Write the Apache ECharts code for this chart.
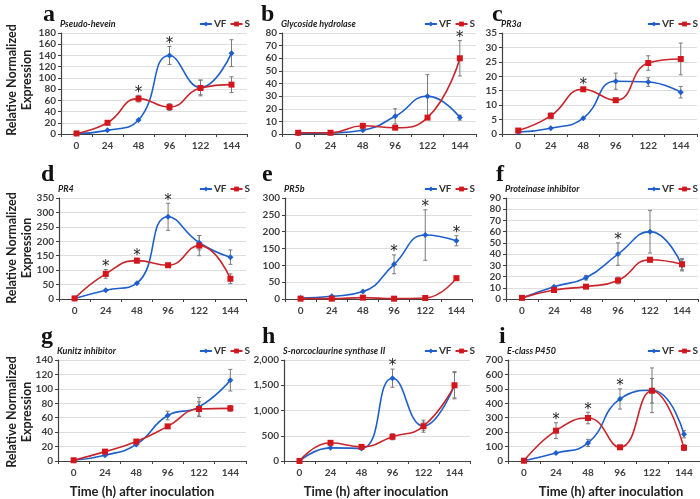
<!DOCTYPE html>
<html><head><meta charset="utf-8">
<script src="https://cdn.jsdelivr.net/npm/echarts@6/dist/echarts.min.js"></script>
<style>html,body{margin:0;padding:0;background:#fff}#c{width:700px;height:499px}</style>
</head><body><div id="c"></div>
<script>
const cats = ['0','24','48','96','122','144'];
const letters = ['a','b','c','d','e','f','g','h','i'];
const genes = ['Pseudo-hevein','Glycoside hydrolase','PR3a','PR4','PR5b','Proteinase inhibitor','Kunitz inhibitor','S-norcoclaurine synthase II','E-class P450'];
const yMax = [180, 80, 35, 350, 300, 90, 140, 2000, 700];
const yStep = [20, 10, 5, 50, 50, 10, 20, 500, 100];

const aVF = [1, 6.5, 25, 140, 83, 144];   const aVFerr = [0.5, 1, 2, 16, 13, 24];
const aS  = [1, 20, 63, 48, 82, 88];      const aSerr  = [0.5, 2, 6, 6, 14, 14];
const aStar = ['', '', 'S', 'VF', '', ''];
const bVF = [0.5, 0.8, 3, 14, 30, 13];    const bVFerr = [0.2, 0.3, 0.5, 6, 17, 2];
const bS  = [1, 1, 6.5, 5, 13, 60];       const bSerr  = [0.3, 0.3, 1, 1, 0, 14];
const bStar = ['', '', '', '', '', 'S'];
const cVF = [0.7, 2, 5.5, 18.3, 18, 14.5]; const cVFerr = [0.1, 0.3, 0.4, 2.8, 1.5, 2];
const cS  = [1.2, 6.3, 15.5, 11.7, 24.6, 26]; const cSerr = [0.3, 1, 0.5, 0.5, 2.5, 5.5];
const cStar = ['', '', 'S', '', '', ''];
const dVF = [2, 30, 55, 285, 195, 145];   const dVFerr = [1, 3, 5, 47, 25, 25];
const dS  = [2, 87, 133, 117, 185, 70];   const dSerr  = [1, 15, 8, 5, 35, 17];
const dStar = ['', 'S', 'S', 'VF', '', ''];
const eVF = [3, 8, 22, 103, 190, 173];    const eVFerr = [1, 2, 5, 28, 75, 15];
const eS  = [1, 1, 4, 1, 3, 62];          const eSerr  = [0, 0, 0.5, 0, 0, 3];
const eStar = ['', '', '', 'VF', 'VF', 'VF'];
const fVF = [1, 11, 19, 40, 60, 30];      const fVFerr = [0.3, 1, 2, 10, 19, 5];
const fS  = [1, 8, 11, 16.5, 35, 31];     const fSerr  = [0.2, 0.5, 1, 3, 2, 5];
const fStar = ['', '', '', 'VF', '', ''];
const gVF = [1, 8, 23, 63, 75, 112];      const gVFerr = [0.3, 1, 2, 6, 13, 15];
const gS  = [1, 13, 27, 48, 72, 73];      const gSerr  = [0.3, 1, 2, 2, 10, 4];
const gStar = ['', '', '', '', '', ''];
const hVF = [0, 260, 250, 1640, 690, 1500]; const hVFerr = [0, 20, 30, 180, 120, 250];
const hS  = [0, 360, 280, 480, 690, 1500];  const hSerr  = [0, 20, 20, 60, 80, 270];
const hStar = ['', '', '', 'VF', '', ''];
const iVF = [2, 55, 125, 430, 490, 185];  const iVFerr = [0, 5, 25, 70, 155, 25];
const iS  = [2, 210, 298, 95, 487, 92];   const iSerr  = [0, 55, 40, 8, 85, 20];
const iStar = ['', 'S', 'S', 'VF', '', ''];

const VFs = [aVF,bVF,cVF,dVF,eVF,fVF,gVF,hVF,iVF];
const VFe = [aVFerr,bVFerr,cVFerr,dVFerr,eVFerr,fVFerr,gVFerr,hVFerr,iVFerr];
const Ss  = [aS,bS,cS,dS,eS,fS,gS,hS,iS];
const Se  = [aSerr,bSerr,cSerr,dSerr,eSerr,fSerr,gSerr,hSerr,iSerr];
const Stars = [aStar,bStar,cStar,dStar,eStar,fStar,gStar,hStar,iStar];

// layout (pixels)
const gLeft  = [61, 282, 502, 59, 285, 506, 58, 284, 508];
const gRight = [247, 476, 697, 246, 472, 698, 246, 470, 700];
const rowTop = [33, 198, 360];
const rowH = 101;
const legRight = [450, 225, 2, 450, 225, 2, 450, 225, 2];
const letterX = [43, 261, 492, 41, 262, 496, 41, 262, 499];
const letterY = [3, 3, 3, 163, 163, 163, 325, 325, 325];
const FONT = 'Lato';
const SERIF = 'Liberation Serif';
const BLUE = '#1f5fcc', RED = '#c8262c', AX = '#404040';

const grid = [], xAxis = [], yAxis = [], series = [], legend = [], title = [], graphic = [];
for (let k = 0; k < 9; k++) {
  const r = Math.floor(k / 3);
  grid.push({left: gLeft[k], width: gRight[k] - gLeft[k], top: rowTop[r], height: rowH});
  xAxis.push({type: 'category', gridIndex: k, data: cats, boundaryGap: true,
    axisLine: {lineStyle: {color: AX, width: 1.2}},
    axisTick: {show: true, length: 3, lineStyle: {color: AX}},
    axisLabel: {color: AX, fontFamily: FONT, fontWeight: 'bold', fontSize: 10, margin: 7}});
  yAxis.push({type: 'value', gridIndex: k, min: 0, max: yMax[k], interval: yStep[k],
    axisLine: {show: true, lineStyle: {color: AX, width: 1.2}},
    axisTick: {show: true, length: 3, lineStyle: {color: AX}},
    splitLine: {lineStyle: {color: '#dedede'}},
    axisLabel: {color: AX, fontFamily: FONT, fontWeight: 'bold', fontSize: 10, margin: 5,
      formatter: v => v.toLocaleString('en-US')}});
  const errData = [];
  for (let j = 0; j < 6; j++) {
    errData.push([j, VFs[k][j] - VFe[k][j], VFs[k][j] + VFe[k][j]]);
    errData.push([j, Ss[k][j] - Se[k][j], Ss[k][j] + Se[k][j]]);
  }
  series.push({type: 'custom', xAxisIndex: k, yAxisIndex: k, z: 1, silent: true, data: errData,
    renderItem: (p, api) => {
      const lo = api.value(1), hi = api.value(2);
      if (hi - lo <= 0) return null;
      const a = api.coord([api.value(0), lo]), b = api.coord([api.value(0), hi]);
      if (Math.abs(a[1] - b[1]) < 4) return null;
      const st = {stroke: '#7a7a7a', lineWidth: 1};
      return {type: 'group', children: [
        {type: 'line', shape: {x1: a[0], y1: a[1], x2: b[0], y2: b[1]}, style: st},
        {type: 'line', shape: {x1: a[0]-2, y1: a[1], x2: a[0]+2, y2: a[1]}, style: st},
        {type: 'line', shape: {x1: b[0]-2, y1: b[1], x2: b[0]+2, y2: b[1]}, style: st}]};
    }});
  series.push({type: 'line', name: 'VF_' + k, xAxisIndex: k, yAxisIndex: k, z: 3, data: VFs[k],
    smooth: 0.5, symbol: 'diamond', symbolSize: 6, color: BLUE,
    lineStyle: {width: 1.6, color: BLUE}, itemStyle: {color: BLUE}});
  series.push({type: 'line', name: 'S_' + k, xAxisIndex: k, yAxisIndex: k, z: 4, data: Ss[k],
    smooth: 0.5, symbol: 'rect', symbolSize: 6, color: RED,
    lineStyle: {width: 1.6, color: RED}, itemStyle: {color: '#d4161c'}});
  const starData = [];
  Stars[k].forEach((s, j) => {
    if (s === 'VF') starData.push([j, VFs[k][j] + VFe[k][j]]);
    else if (s === 'S') starData.push([j, Ss[k][j] + Se[k][j]]);
  });
  series.push({type: 'custom', xAxisIndex: k, yAxisIndex: k, z: 5, silent: true, data: starData,
    renderItem: (p, api) => {
      const c = api.coord([api.value(0), api.value(1)]);
      return {type: 'text', x: c[0], y: c[1] + 5, style: {text: '*', fill: '#222', fontSize: 15,
        fontFamily: 'DejaVu Sans', align: 'center', verticalAlign: 'bottom'}};
    }});
  legend.push({right: legRight[k], top: rowTop[r] - 14, orient: 'horizontal',
    data: ['VF_' + k, 'S_' + k],
    formatter: n => n.split('_')[0], itemWidth: 12, itemHeight: 6, itemGap: 3,
    padding: 0, textStyle: {fontFamily: FONT, fontWeight: 'bold', fontSize: 10, color: '#333', padding: [0,0,0,-3]}});
  title.push({text: letters[k], left: letterX[k], top: letterY[k], padding: 0,
    textStyle: {fontFamily: SERIF, fontWeight: 'bold', fontSize: 24, color: '#111'}});
  title.push({text: genes[k], left: gLeft[k] - 1, top: rowTop[r] - 13, padding: 0,
    textStyle: {fontFamily: FONT, fontWeight: 'bold', fontStyle: 'italic', fontSize: 9, color: '#222'}});
}

const rowMid = [80, 248, 412];
rowMid.forEach(m => {
  graphic.push({type: 'text', x: 19, y: m, rotation: Math.PI / 2,
    style: {text: 'Relative Normalized\nExpression', fontFamily: FONT, fontWeight: 'bold', fontSize: 12.5,
      lineHeight: 15, fill: '#222', align: 'center', verticalAlign: 'middle'}, originX: 0, originY: 0});
});
const xMid = [142, 376, 611];
xMid.forEach(x => {
  graphic.push({type: 'text', x: x, y: 492, style: {text: 'Time (h) after inoculation', fontFamily: FONT,
    fontWeight: 'bold', fontSize: 13, fill: '#222', align: 'center', verticalAlign: 'middle'}});
});

const chart = echarts.init(document.getElementById('c'));
chart.setOption({animation: false, backgroundColor: '#fff', grid, xAxis, yAxis, series, legend, title, graphic});
</script></body></html>
